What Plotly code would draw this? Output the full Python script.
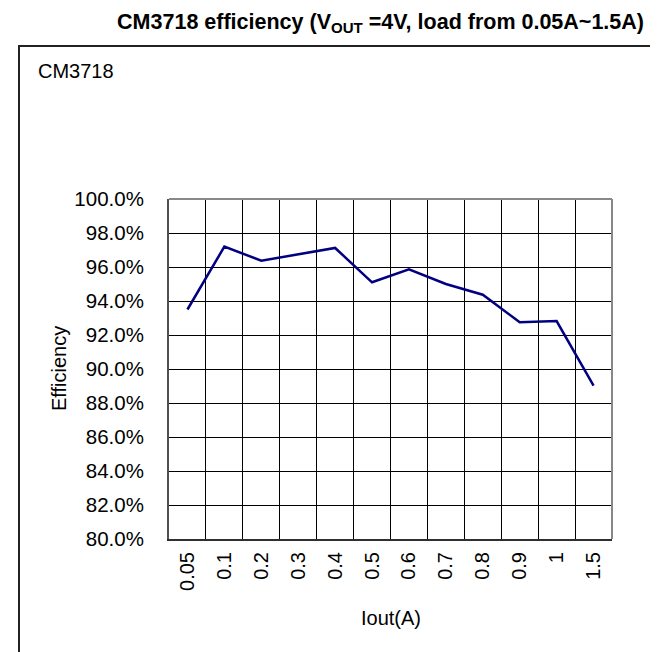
import plotly.graph_objects as go

categories = ["0.05", "0.1", "0.2", "0.3", "0.4", "0.5", "0.6", "0.7", "0.8", "0.9", "1", "1.5"]
efficiency = [0.935, 0.972, 0.9637, 0.9675, 0.9712, 0.951, 0.9586, 0.950, 0.9437, 0.9275, 0.9282, 0.8902]
y_ticks = [0.80, 0.82, 0.84, 0.86, 0.88, 0.90, 0.92, 0.94, 0.96, 0.98, 1.00]

W, H = 658, 652
DY = 8  # vertical compensation
L, R, T, B = 161, 54, 199 - DY, 113 + DY
PW, PH = W - L - R, H - T - B

def px_x(px):
    return (px - L) / PW

def px_y(py):
    return (H - B - (py - DY)) / PH

fig = go.Figure()
fig.add_trace(go.Scatter(
    x=categories, y=efficiency, mode="lines",
    line=dict(color="#000080", width=2.5), showlegend=False,
))

font = "Arial, Liberation Sans, sans-serif"

fig.update_layout(
    width=W, height=H,
    margin=dict(l=L, r=R, t=T, b=B),
    paper_bgcolor="white", plot_bgcolor="white",
    font=dict(family=font, size=20, color="black"),
    title=dict(
        text="<b>CM3718 efficiency (V<sub>OUT</sub> =4V, load from 0.05A~1.5A)</b>",
        x=636 / W, xref="container", xanchor="right",
        y=1 - (21 - DY) / H, yref="container", yanchor="middle",
        font=dict(family=font, size=21.5, color="black"),
    ),
    xaxis=dict(
        type="category", tickson="boundaries", range=[-0.5, len(categories) - 0.5],
        showgrid=True, gridcolor="black", gridwidth=1,
        showline=True, linecolor="#303030", linewidth=2,
        tickangle=-90, ticks="", ticklabelstandoff=3,
        tickfont=dict(size=20),
        zeroline=False,
    ),
    yaxis=dict(
        range=[0.80, 1.00], tickvals=y_ticks, tickformat=".1%",
        showgrid=True, gridcolor="black", gridwidth=1,
        showline=True, linecolor="#505050", linewidth=2,
        ticks="", ticklabelstandoff=19,
        tickfont=dict(size=20.5),
        zeroline=False,
    ),
    shapes=[
        dict(type="line", xref="x domain", yref="y domain", x0=0, x1=1, y0=1, y1=1,
             line=dict(color="#888888", width=2)),
        dict(type="line", xref="x domain", yref="y domain", x0=1, x1=1, y0=0, y1=1,
             line=dict(color="#888888", width=2)),
        dict(type="rect", xref="paper", yref="paper",
             x0=px_x(11), x1=px_x(653), y0=px_y(672), y1=px_y(46),
             line=dict(color="#222222", width=2), layer="below"),
    ],
    annotations=[
        dict(text="CM3718", xref="paper", yref="paper", x=px_x(28), y=px_y(71),
             xanchor="left", yanchor="middle", showarrow=False,
             font=dict(family=font, size=20)),
        dict(text="Efficiency", xref="paper", yref="paper", x=px_x(51), y=px_y(369),
             xanchor="center", yanchor="middle", textangle=-90, showarrow=False,
             font=dict(family=font, size=20)),
        dict(text="Iout(A)", xref="paper", yref="paper", x=px_x(383), y=px_y(618),
             xanchor="center", yanchor="middle", showarrow=False,
             font=dict(family=font, size=20)),
    ],
)

fig.write_html("out.html")
